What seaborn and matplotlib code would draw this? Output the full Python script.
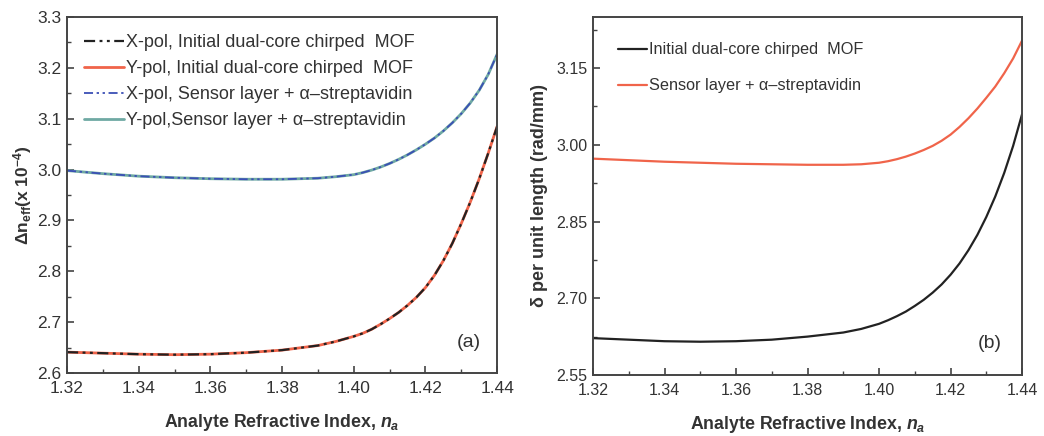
import matplotlib
matplotlib.use("Agg")
import matplotlib.pyplot as plt
from matplotlib.ticker import MultipleLocator, FormatStrFormatter
import seaborn as sns
import pandas as pd

# ---------------- data ----------------
n_a = [1.32, 1.33, 1.34, 1.35, 1.36, 1.37, 1.38, 1.39, 1.395,
       1.40, 1.4025, 1.405, 1.4075, 1.41, 1.4125, 1.415, 1.4175,
       1.42, 1.4225, 1.425, 1.4275, 1.43, 1.4325, 1.435, 1.4375, 1.44]

# panel (a): birefringence (x 1e-4)
xpol_initial = [2.641, 2.639, 2.637, 2.636, 2.637, 2.640, 2.645, 2.654, 2.662,
                2.672, 2.678, 2.686, 2.696, 2.707, 2.719, 2.733, 2.749,
                2.768, 2.792, 2.821, 2.855, 2.894, 2.936, 2.982, 3.032, 3.085]
ypol_initial = list(xpol_initial)
xpol_sensor = [2.998, 2.992, 2.987, 2.984, 2.982, 2.981, 2.981, 2.983, 2.986,
               2.990, 2.994, 2.999, 3.005, 3.012, 3.020, 3.029, 3.039,
               3.050, 3.062, 3.076, 3.092, 3.110, 3.131, 3.156, 3.187, 3.227]
ypol_sensor = list(xpol_sensor)

# panel (b): phase per unit length (rad/mm)
delta_initial = [2.622, 2.619, 2.616, 2.615, 2.616, 2.619, 2.625, 2.633, 2.640,
                 2.650, 2.657, 2.665, 2.674, 2.685, 2.697, 2.711, 2.727,
                 2.746, 2.768, 2.794, 2.824, 2.859, 2.899, 2.945, 2.998, 3.060]
delta_sensor = [2.973, 2.970, 2.967, 2.965, 2.963, 2.962, 2.961, 2.961, 2.962,
                2.965, 2.968, 2.972, 2.977, 2.983, 2.990, 2.998, 3.008,
                3.020, 3.035, 3.052, 3.071, 3.092, 3.114, 3.140, 3.169, 3.204]

labels_a = ["X-pol, Initial dual-core chirped  MOF",
            "Y-pol, Initial dual-core chirped  MOF",
            "X-pol, Sensor layer + α–streptavidin",
            "Y-pol,Sensor layer + α–streptavidin"]
labels_b = ["Initial dual-core chirped  MOF",
            "Sensor layer + α–streptavidin"]

# ---------------- style ----------------
sns.set_style("ticks")
plt.rcParams["font.family"] = ["Liberation Sans", "DejaVu Sans"]
plt.rcParams["mathtext.fontset"] = "custom"
plt.rcParams["mathtext.rm"] = "Liberation Sans:bold"
plt.rcParams["mathtext.it"] = "Liberation Sans:bold:italic"
plt.rcParams["mathtext.bf"] = "Liberation Sans:bold"

spine_col = "#444444"
text_col = "#333333"
red = "#f0644a"
teal = "#6fa9a3"
blue = "#3b4fb5"
black = "#222222"
dashdotdot = (0, (5, 2, 1.3, 2, 1.3, 2))

fig = plt.figure(figsize=(10.44, 4.36), dpi=100)
axA = fig.add_axes([0.0642, 0.1445, 0.412, 0.8165])
axB = fig.add_axes([0.568, 0.140, 0.411, 0.821])

dfa = pd.DataFrame({"n": n_a, "xi": xpol_initial, "yi": ypol_initial,
                    "xs": xpol_sensor, "ys": ypol_sensor})
dfb = pd.DataFrame({"n": n_a, "di": delta_initial, "ds": delta_sensor})

# panel a
sns.lineplot(data=dfa, x="n", y="yi", ax=axA, color=red, lw=2.0)
sns.lineplot(data=dfa, x="n", y="xi", ax=axA, color=black, lw=1.6, linestyle=dashdotdot)
sns.lineplot(data=dfa, x="n", y="ys", ax=axA, color=teal, lw=2.0)
sns.lineplot(data=dfa, x="n", y="xs", ax=axA, color=blue, lw=1.3, linestyle=dashdotdot)
la = axA.get_lines()
handles_a = [la[1], la[0], la[3], la[2]]

# panel b
sns.lineplot(data=dfb, x="n", y="di", ax=axB, color=black, lw=1.6)
sns.lineplot(data=dfb, x="n", y="ds", ax=axB, color=red, lw=1.6)
handles_b = axB.get_lines()[:2]

for ax, tsize in ((axA, 12.5), (axB, 11.5)):
    ax.set_xlim(1.32, 1.44)
    ax.xaxis.set_major_locator(MultipleLocator(0.02))
    ax.xaxis.set_minor_locator(MultipleLocator(0.01))
    ax.xaxis.set_major_formatter(FormatStrFormatter("%.2f"))
    ax.tick_params(which="major", direction="in", length=5, width=1.2,
                   colors=spine_col, labelcolor=text_col, labelsize=tsize, pad=4)
    ax.tick_params(axis="x", which="major", pad=6)
    ax.tick_params(which="minor", direction="in", length=3, width=1.0,
                   colors=spine_col)
    for s in ax.spines.values():
        s.set_color(spine_col)
        s.set_linewidth(1.4)
    ax.set_xlabel(r"Analyte Refractive Index, $n_a$", fontsize=12.8,
                  fontweight="bold", color=text_col, labelpad=11)

axA.set_ylim(2.6, 3.3)
axA.yaxis.set_major_locator(MultipleLocator(0.1))
axA.yaxis.set_minor_locator(MultipleLocator(0.05))
axA.yaxis.set_major_formatter(FormatStrFormatter("%.1f"))
axA.set_ylabel(r"Δn$_{\mathrm{eff}}$(x 10$^{\mathrm{-4}}$)", fontsize=12.5,
               fontweight="bold", color=text_col, labelpad=2)

axB.set_ylim(2.55, 3.25)
axB.yaxis.set_major_locator(MultipleLocator(0.15))
axB.yaxis.set_minor_locator(MultipleLocator(0.075))
axB.yaxis.set_major_formatter(FormatStrFormatter("%.2f"))
axB.set_ylabel("δ per unit length (rad/mm)", fontsize=13,
               fontweight="bold", color=text_col, labelpad=6)

axA.legend(handles_a, labels_a, loc="upper left", frameon=False,
           fontsize=13, handlelength=2.2, handletextpad=0.1,
           labelspacing=0.5, borderaxespad=0.55, labelcolor=text_col)
axB.legend(handles_b, labels_b, loc="upper left", frameon=False,
           fontsize=11.7, handlelength=1.8, handletextpad=0.12,
           labelspacing=1.3, borderaxespad=1.15, labelcolor=text_col)

axA.text(0.933, 0.087, "(a)", transform=axA.transAxes, fontsize=14,
         ha="center", va="center", color=text_col)
axB.text(0.925, 0.089, "(b)", transform=axB.transAxes, fontsize=14,
         ha="center", va="center", color=text_col)

fig.savefig("out.png", dpi=100)
